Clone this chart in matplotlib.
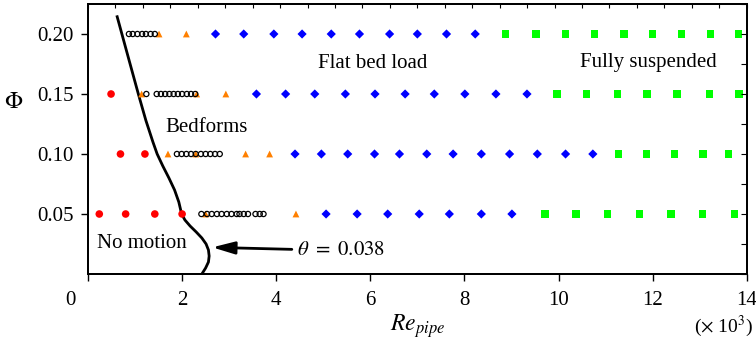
import matplotlib
matplotlib.use("Agg")
import matplotlib.pyplot as plt
import matplotlib.transforms as mtransforms
import numpy as np

plt.rcParams['font.family'] = ['Liberation Serif', 'DejaVu Serif']
plt.rcParams['mathtext.fontset'] = 'stix'

# Re_pipe values in thousands, per Phi row
phi_levels = [0.05, 0.10, 0.15, 0.20]

no_motion_re = [0.24, 0.80, 1.42, 2.00,  0.69, 1.21,  0.49]
no_motion_phi = [0.05, 0.05, 0.05, 0.05, 0.10, 0.10, 0.15]

bedform_re = [2.41, 2.53, 2.63, 2.74, 2.84, 2.95, 3.05, 3.16, 3.22, 3.31, 3.40, 3.56, 3.65, 3.73,
              1.89, 1.99, 2.09, 2.19, 2.29, 2.40, 2.50, 2.60, 2.70, 2.80,
              1.24, 1.46, 1.55, 1.64, 1.73, 1.82, 1.91, 2.00, 2.10, 2.19, 2.28,
              0.87, 0.95, 1.05, 1.15, 1.23, 1.33, 1.42]
bedform_phi = [0.05] * 14 + [0.10] * 10 + [0.15] * 11 + [0.20] * 7

transition_re = [2.50, 4.42,  1.70, 2.29, 3.35, 3.86,  1.14, 2.31, 2.93,  1.51, 2.09]
transition_phi = [0.05, 0.05, 0.10, 0.10, 0.10, 0.10, 0.15, 0.15, 0.15, 0.20, 0.20]

flatbed_re = [5.06, 5.72, 6.37, 7.04, 7.68, 8.36, 9.01,
              4.40, 4.96, 5.52, 6.09, 6.62, 7.20, 7.76, 8.36, 8.96, 9.55, 10.15, 10.73,
              3.58, 4.20, 4.82, 5.47, 6.10, 6.74, 7.36, 8.01, 8.67, 9.33,
              2.71, 3.31, 3.95, 4.55, 5.17, 5.77, 6.41, 7.00, 7.62, 8.23]
flatbed_phi = [0.05] * 7 + [0.10] * 12 + [0.15] * 10 + [0.20] * 10

suspended_re = [9.71, 10.37, 11.04, 11.72, 12.39, 13.06, 13.74,
                11.28, 11.87, 12.46, 13.07, 13.62,
                9.97, 10.60, 11.25, 11.88, 12.52, 13.21, 13.84,
                8.88, 9.52, 10.15, 10.77, 11.39, 12.00, 12.61, 13.23, 13.83]
suspended_phi = [0.05] * 7 + [0.10] * 5 + [0.15] * 7 + [0.20] * 9

# threshold curve theta = 0.038 (traced)
curve_re = [0.62, 0.86, 1.07, 1.23, 1.38, 1.47, 1.59, 1.72, 1.84, 1.93, 1.99, 2.06,
            2.17, 2.30, 2.42, 2.51, 2.56, 2.575, 2.56, 2.50, 2.42]
curve_phi = [0.2144, 0.18, 0.15, 0.128, 0.11, 0.10, 0.09, 0.08, 0.07, 0.06, 0.05, 0.045,
             0.04, 0.035, 0.03, 0.025, 0.02, 0.015, 0.01, 0.005, 0.0]

xticks = [0, 2, 4, 6, 8, 10, 12, 14]
yticks = [0.05, 0.10, 0.15, 0.20]
ytick_labels = ['0.05', '0.10', '0.15', '0.20']

fig = plt.figure(figsize=(7.56, 3.48), dpi=100)
ax = fig.add_axes([88 / 756, 1 - 274 / 348, (746.7 - 88) / 756, (274 - 4) / 348])

ax.plot(curve_re, curve_phi, color='black', lw=2.0, zorder=3, solid_joinstyle='round')

ax.scatter(no_motion_re, no_motion_phi, s=30, marker='o', color='#ff0000', edgecolors='none', zorder=4)
ax.scatter(transition_re, transition_phi, s=24, marker='^', color='#ff8000', edgecolors='none', zorder=4)
ax.scatter(bedform_re, bedform_phi, s=14, marker='o', facecolors='none', edgecolors='black', linewidths=0.9, zorder=5)
ax.scatter(flatbed_re, flatbed_phi, s=22, marker='D', color='#0000ff', edgecolors='none', zorder=4)
ax.scatter(suspended_re, suspended_phi, s=28, marker='s', color='#00ff00', edgecolors='none', zorder=4)

ax.set_xlim(0, 14)
ax.set_ylim(0, 0.225)

ax.set_xticks(xticks)
ax.set_xticklabels([str(v) for v in xticks])
ax.set_yticks(yticks)
ax.set_yticklabels(ytick_labels)
ax.tick_params(axis='both', which='major', direction='out', length=5, width=1.0, labelsize=15,
               top=False, right=False)
ax.tick_params(axis='y', pad=5)
ax.tick_params(axis='x', pad=7)

# shift "0" label left
lbl0 = ax.get_xticklabels()[0]
lbl0.set_transform(lbl0.get_transform() + mtransforms.ScaledTranslation(-18 / 100, 0, fig.dpi_scale_trans))

# top and right inward ticks
axr = ax.twinx()
axr.set_ylim(ax.get_ylim())
axr.set_yticks(np.arange(0, 0.2251, 0.025))
axr.tick_params(axis='y', direction='in', length=4, width=0.8, labelright=False)
axt = ax.twiny()
axt.set_xlim(ax.get_xlim())
axt.set_xticks(np.linspace(0, 14, 25))
axt.tick_params(axis='x', direction='in', length=3, width=0.8, labeltop=False)

for a in (ax, axr, axt):
    for sp in a.spines.values():
        sp.set_linewidth(1.2)

ax.text(373 / 756, 1 - 64 / 348, 'Flat bed load', transform=fig.transFigure, fontsize=15, ha='center', va='center')
ax.text(648 / 756, 1 - 62 / 348, 'Fully suspended', transform=fig.transFigure, fontsize=15, ha='center', va='center')
ax.text(207 / 756, 1 - 128 / 348, 'Bedforms', transform=fig.transFigure, fontsize=15, ha='center', va='center')
ax.text(142 / 756, 1 - 243 / 348, 'No motion', transform=fig.transFigure, fontsize=15, ha='center', va='center')

ax.annotate(r'$\theta\ =\ 0.038$', xy=(2.64, 0.0222), xytext=(4.45, 0.0195),
            fontsize=15, ha='left', va='center', zorder=6,
            arrowprops=dict(arrowstyle='-|>,head_length=0.9,head_width=0.25', color='black', lw=2.0,
                            shrinkA=2, shrinkB=0))

fig.text(14 / 756, 1 - 103 / 348, r'$\mathit{\Phi}$', fontsize=17, ha='center', va='center')
fig.text(418 / 756, 1 - 326 / 348, r'$Re_{pipe}$', fontsize=17, ha='center', va='center')
fig.text(724 / 756, 1 - 326 / 348, r'($\times$ 10$^3$)', fontsize=14, ha='center', va='center')

fig.savefig('out.png', dpi=100)
